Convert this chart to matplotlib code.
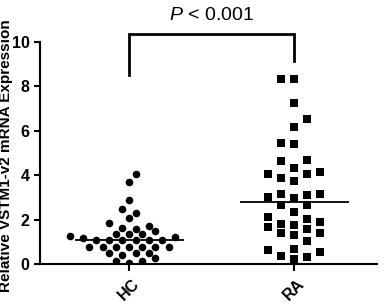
import matplotlib
matplotlib.use("Agg")
import matplotlib.pyplot as plt
import numpy as np

plt.rcParams["font.family"] = ["Liberation Sans", "DejaVu Sans"]
plt.rcParams["mathtext.fontset"] = "custom"
plt.rcParams["mathtext.it"] = "Liberation Sans:italic"
plt.rcParams["mathtext.rm"] = "Liberation Sans"

groups = ["HC", "RA"]
hc_values = [4.04, 3.68, 2.88, 2.48, 2.31, 2.06, 1.83, 1.73, 1.64, 1.56, 1.50,
             1.34, 1.34, 1.34, 1.28, 1.20, 1.18,
             1.08, 1.08, 1.08, 1.08, 1.08, 1.08,
             0.75, 0.75, 0.75, 0.75, 0.75, 0.75, 0.75,
             0.51, 0.51, 0.51, 0.39, 0.28, 0.15, 0.13, 0.06]
ra_values = [8.32, 8.32, 7.24, 6.53, 6.19, 5.44, 5.39, 4.68, 4.64, 4.35,
             4.13, 4.08, 4.05, 3.86, 3.74, 3.18, 3.15, 3.11, 3.04, 2.96,
             2.66, 2.66, 2.33, 2.13, 2.01, 1.88, 1.79, 1.76, 1.68, 1.60,
             1.40, 1.38, 1.32, 1.04, 0.70, 0.63, 0.55, 0.36, 0.34, 0.23]
p_text = "< 0.001"
yticks = [0, 2, 4, 6, 8, 10]

XLIM = (-0.54, 1.5)
YLIM = (0, 10)
AX_RECT = [0.103, 0.134, 0.871, 0.728]
FIG_W, FIG_H = 387, 305


def swarm_offsets(values, px_x, px_y, slot, min_dist):
    """GraphPad-like column scatter: grid of slots, nearest free slot."""
    order = np.argsort(values)
    placed = []  # (x_px, y_px)
    xs = np.zeros(len(values))
    for idx in order:
        y = values[idx] * px_y
        balance = sum(px for px, _ in placed)
        x_found = 0.0
        for step in range(0, 40):
            if step == 0:
                cands = [0]
            elif balance > 0:
                cands = [-step, step]
            else:
                cands = [step, -step]
            found = None
            for k in cands:
                x = k * slot
                if all(np.hypot(x - px, y - py) >= min_dist for px, py in placed):
                    found = x
                    break
            if found is not None:
                x_found = found
                break
        placed.append((x_found, y))
        xs[idx] = x_found / px_x
    return xs


fig = plt.figure(figsize=(3.87, 3.05), dpi=100)
ax = fig.add_axes(AX_RECT)

px_x = AX_RECT[2] * FIG_W / (XLIM[1] - XLIM[0])
px_y = AX_RECT[3] * FIG_H / (YLIM[1] - YLIM[0])

styles = [("o", 30, 6.6, 8.0), ("s", 34, 13.0, 9.0)]
for i, vals in enumerate([hc_values, ra_values]):
    mk, ms, slot, mdist = styles[i]
    vals = np.array(vals)
    xs = i + swarm_offsets(vals, px_x, px_y, slot, mdist)
    ax.scatter(xs, vals, marker=mk, s=ms, color="black", linewidths=0,
               zorder=3)
    ax.hlines(np.median(vals), i - 0.33, i + 0.33, color="black", lw=1.3,
              zorder=4)

# significance bracket
ax.plot([0, 0, 1, 1], [8.5, 10.35, 10.35, 9.15], color="black", lw=2,
        clip_on=False, solid_joinstyle="miter")
ax.text(0.5, 11.2, "$\\it{P}$ " + p_text, ha="center", va="center",
        fontsize=14, clip_on=False)

ax.set_xlim(*XLIM)
ax.set_ylim(*YLIM)
ax.set_yticks(yticks)
ax.set_xticks([0, 1])
ax.set_xticklabels(groups, rotation=45, ha="center", fontweight="bold",
                   fontsize=11.5)
ax.set_yticklabels([str(t) for t in yticks], fontweight="bold", fontsize=11.5)
ax.set_ylabel("Relative VSTM1-v2 mRNA Expression", fontweight="bold",
              fontsize=11)
ax.yaxis.set_label_coords(-0.079, 0.49)

for side in ["top", "right"]:
    ax.spines[side].set_visible(False)
for side in ["left", "bottom"]:
    ax.spines[side].set_linewidth(1.5)
ax.tick_params(axis="y", width=1.5, length=4, direction="out")
ax.tick_params(axis="x", width=1.5, length=5, direction="out")

fig.savefig("out.png", dpi=100)
